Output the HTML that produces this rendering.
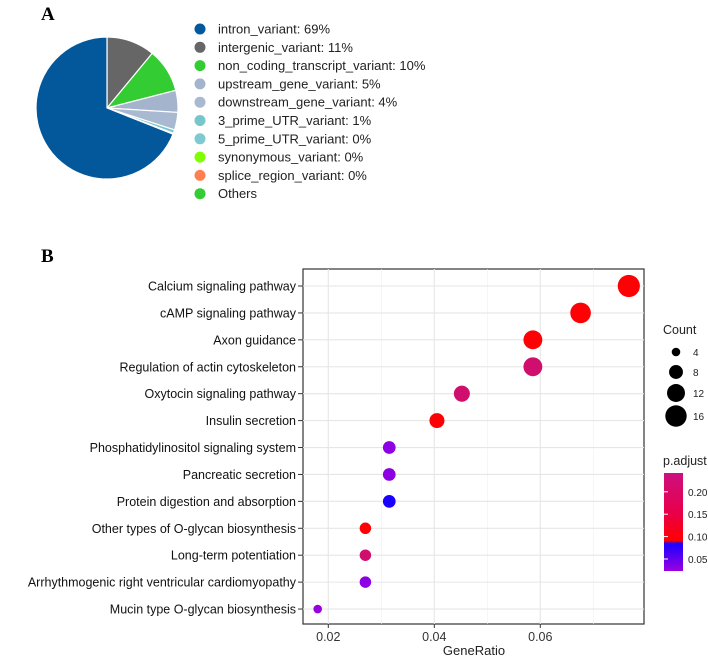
<!DOCTYPE html>
<html><head><meta charset="utf-8"><style>
body{margin:0;background:#fff}
svg{display:block;font-family:"Liberation Sans",sans-serif}
</style></head><body>
<svg id="fig" width="708" height="658" viewBox="0 0 708 658">
<defs>
<linearGradient id="cb" x1="0" y1="1" x2="0" y2="0">
<stop offset="0" stop-color="#9b00e0"/><stop offset="0.28" stop-color="#1a00ff"/>
<stop offset="0.31" stop-color="#ff0000"/><stop offset="0.6" stop-color="#e8004a"/>
<stop offset="1" stop-color="#cc1080"/></linearGradient></defs>
<text x="41" y="20" font-family="Liberation Serif,serif" font-weight="bold" font-size="19">A</text>
<text x="41" y="262" font-family="Liberation Serif,serif" font-weight="bold" font-size="19">B</text>
<g id="pie"></g>
<g id="pleg"></g>
<rect x="303" y="269" width="341" height="355" fill="#fff" stroke="#333" stroke-width="1.2"/>
<g id="grid"></g>
<g id="dots"></g>
<g id="ylab"></g>
<g id="xlab"></g>
<text x="474" y="655" text-anchor="middle" font-size="13" fill="#222">GeneRatio</text>
<text x="663" y="334" font-size="12.5" fill="#222">Count</text>
<g id="cleg"></g>
<text x="663" y="465" font-size="12.5" fill="#222">p.adjust</text>
<rect x="664" y="473" width="19" height="98" fill="url(#cb)"/>
<g id="cbt"></g>
</svg>
<script>
const pieLabels=["intron_variant: 69%","intergenic_variant: 11%","non_coding_transcript_variant: 10%","upstream_gene_variant: 5%","downstream_gene_variant: 4%","3_prime_UTR_variant: 1%","5_prime_UTR_variant: 0%","synonymous_variant: 0%","splice_region_variant: 0%","Others"];
const pieValues=[69,11,10,5,4,0.8,0.2,0,0,0];
const pieColors=["#02589b","#666666","#33cc33","#a3b4cc","#a9b9d1","#76c6cc","#7fc9d1","#7fff00","#ff7f50","#33cc33"];
const terms=["Calcium signaling pathway","cAMP signaling pathway","Axon guidance","Regulation of actin cytoskeleton","Oxytocin signaling pathway","Insulin secretion","Phosphatidylinositol signaling system","Pancreatic secretion","Protein digestion and absorption","Other types of O-glycan biosynthesis","Long-term potentiation","Arrhythmogenic right ventricular cardiomyopathy","Mucin type O-glycan biosynthesis"];
const geneRatio=[0.0767,0.0676,0.0586,0.0586,0.0452,0.0405,0.0315,0.0315,0.0315,0.027,0.027,0.027,0.018];
const counts=[17,15,13,13,10,9,7,7,7,6,6,6,4];
const padj=[0.105,0.105,0.105,0.22,0.22,0.105,0.03,0.03,0.09,0.105,0.22,0.03,0.025];
const xTicks=[0.02,0.04,0.06];
const countTicks=[4,8,12,16];
const cbTicks=[0.05,0.10,0.15,0.20];
const NS="http://www.w3.org/2000/svg";
function mk(t,a,p,txt){const e=document.createElementNS(NS,t);for(const k in a)e.setAttribute(k,a[k]);if(txt!==undefined)e.textContent=txt;document.getElementById(p).appendChild(e);return e;}
const cx=107,cy=108,R=71;const tot=pieValues.reduce((a,b)=>a+b,0);
let ang=0;
const order=[1,2,3,4,5,6,0];
for(const i of order){if(!pieValues[i])continue;const a0=ang,a1=ang+pieValues[i]/tot*2*Math.PI;ang=a1;
const x0=cx+R*Math.sin(a0),y0=cy-R*Math.cos(a0),x1=cx+R*Math.sin(a1),y1=cy-R*Math.cos(a1);
const s=mk('path',{d:`M${cx},${cy}L${x0},${y0}A${R},${R} 0 ${a1-a0>Math.PI?1:0} 1 ${x1},${y1}Z`,fill:pieColors[i],stroke:'#fff','stroke-width':1.2},'pie');

}
pieLabels.forEach((l,i)=>{const y=29+i*18.3;
const c=mk('circle',{cx:200,cy:y,r:5.5,fill:pieColors[i]},'pleg');


const t=mk('text',{x:218,y:y+4.5,'font-size':13,fill:'#222'},'pleg',l);

});
const X=v=>328.3+(v-0.02)*5300;
const Y=i=>286+i*26.92;
const rad=c=>3.2*Math.sqrt(c)-2.1;
function col(p){if(p<0.1){const f=Math.max(0,Math.min(1,(p-0.023)/(0.09-0.023)));return `rgb(${Math.round(155-130*f)},0,${Math.round(224+31*f)})`;}
const f=Math.max(0,Math.min(1,(p-0.1)/(0.24-0.1)));return `rgb(${Math.round(255-55*f)},${Math.round(16*f)},${Math.round(128*f)})`;}
[0.03,0.05,0.07].forEach(v=>{const g=mk('line',{x1:X(v),x2:X(v),y1:269,y2:624,stroke:'#efefef','stroke-width':0.6},'grid');});
xTicks.forEach(v=>{const g=mk('line',{x1:X(v),x2:X(v),y1:269,y2:624,stroke:'#e6e6e6','stroke-width':1.1},'grid');
const tk=mk('line',{x1:X(v),x2:X(v),y1:624,y2:628,stroke:'#333'},'xlab');
const t=mk('text',{x:X(v),y:641,'text-anchor':'middle','font-size':12.5,fill:'#333'},'xlab',v.toFixed(2));});
terms.forEach((l,i)=>{const g=mk('line',{x1:303,x2:644,y1:Y(i),y2:Y(i),stroke:'#e6e6e6','stroke-width':1.1},'grid');
const tk=mk('line',{x1:298,x2:303,y1:Y(i),y2:Y(i),stroke:'#333'},'ylab');
const t=mk('text',{x:296,y:Y(i)+4.5,'text-anchor':'end','font-size':12.5,fill:'#111'},'ylab',l);
const d=mk('circle',{cx:X(geneRatio[i]),cy:Y(i),r:rad(counts[i]),fill:col(padj[i])},'dots');});
const cys=[352,372,393,416];
countTicks.forEach((c,i)=>{const d=mk('circle',{cx:676,cy:cys[i],r:rad(c),fill:'#000'},'cleg');
const t=mk('text',{x:693,y:cys[i]+4,'font-size':10,fill:'#222'},'cleg',String(c));});
const CY=v=>559-(v-0.05)/0.05*22.4;
cbTicks.forEach(v=>{const t=mk('text',{x:688,y:CY(v)+4,'font-size':10,fill:'#222'},'cbt',v.toFixed(2));
const l=mk('line',{x1:664,x2:668,y1:CY(v),y2:CY(v),stroke:'#fff'},'cbt');});
</script>
</body></html>
